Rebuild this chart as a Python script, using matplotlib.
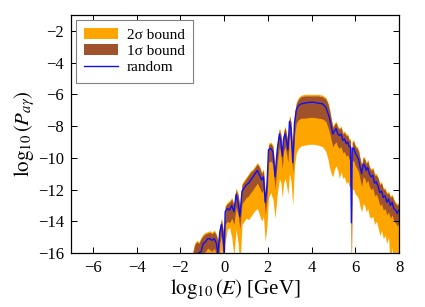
import numpy as np
import matplotlib
matplotlib.use("Agg")
import matplotlib.pyplot as plt

plt.rcParams['font.family'] = ['Liberation Serif', 'DejaVu Serif']
plt.rcParams['mathtext.fontset'] = 'stix'

# log10(E) grid
log_e = [-1.45, -1.35, -1.25, -1.15, -1.05, -0.95, -0.85, -0.75, -0.65, -0.55,
         -0.45, -0.35, -0.28, -0.2, -0.12, -0.05, 0.0, 0.05, 0.15, 0.25,
         0.35, 0.45, 0.55, 0.65, 0.72, 0.82, 0.92, 1.02, 1.12, 1.22,
         1.32, 1.42, 1.52, 1.62, 1.72, 1.80, 1.88, 1.96, 2.03, 2.13,
         2.23, 2.33, 2.43, 2.53, 2.60, 2.66, 2.72, 2.79, 2.86, 2.92,
         2.99, 3.06, 3.14, 3.22, 3.30, 3.40, 3.52, 3.7, 3.9, 4.1,
         4.3, 4.5, 4.65, 4.75, 4.82, 4.90, 4.97, 5.05, 5.12, 5.20,
         5.27, 5.35, 5.43, 5.50, 5.58, 5.65, 5.72, 5.78, 5.82, 5.86,
         5.93, 6.00, 6.08, 6.15, 6.22, 6.29, 6.36, 6.43, 6.50, 6.57,
         6.64, 6.72, 6.80, 6.88, 6.96, 7.04, 7.12, 7.20, 7.28, 7.36,
         7.44, 7.52, 7.60, 7.68, 7.76, 7.84, 7.92, 8.00]

# random realisation
p_random = [-16.5, -16.3, -16.2, -16.0, -15.9, -15.4, -15.3, -15.1, -15.1, -15.2,
            -15.1, -15.4, -16.1, -14.7, -14.2, -15.0, -16.0, -13.4, -13.2, -13.3,
            -13.0, -13.4, -12.3, -12.9, -13.7, -12.1, -11.9, -11.7, -11.6, -11.4,
            -11.2, -11.0, -10.8, -11.1, -11.4, -11.2, -12.8, -11.8, -9.5, -9.4,
            -9.6, -11.2, -9.5, -8.5, -9.0, -9.9, -8.8, -8.5, -9.0, -9.5,
            -7.7, -8.2, -10.3, -7.8, -7.0, -6.7, -6.6, -6.55, -6.5, -6.5,
            -6.55, -6.6, -6.8, -7.2, -7.5, -8.0, -8.5, -8.3, -8.15, -8.5,
            -8.6, -8.5, -8.9, -8.8, -9.1, -9.0, -9.3, -9.3, -14.1, -9.4,
            -9.4, -9.7, -9.9, -10.1, -10.6, -11.0, -10.4, -10.5, -10.8, -10.6,
            -11.0, -11.2, -11.1, -11.6, -11.5, -11.8, -12.2, -12.1, -12.5, -12.4,
            -12.8, -12.6, -13.0, -12.8, -13.2, -13.3, -13.5, -13.3]

# 1 sigma band
up_1s = [-16.2, -15.5, -15.3, -15.4, -15.1, -14.9, -14.8, -14.75, -14.7, -14.8,
         -14.65, -14.9, -15.3, -14.4, -13.9, -14.5, -15.0, -13.1, -12.9, -12.8,
         -12.6, -13.0, -12.0, -12.4, -13.2, -11.7, -11.5, -11.3, -11.1, -10.9,
         -10.8, -10.6, -10.4, -10.6, -11.0, -10.8, -12.3, -11.2, -9.2, -9.1,
         -9.3, -10.7, -9.1, -8.2, -8.6, -9.5, -8.4, -8.1, -8.6, -9.0,
         -7.4, -7.8, -9.6, -7.3, -6.6, -6.3, -6.15, -6.1, -6.1, -6.1,
         -6.1, -6.15, -6.3, -6.6, -7.0, -7.6, -8.1, -7.9, -7.8, -8.1,
         -8.2, -8.1, -8.5, -8.4, -8.6, -8.6, -8.9, -8.9, -13.0, -9.0,
         -9.0, -9.3, -9.4, -9.6, -10.1, -10.5, -10.0, -10.1, -10.4, -10.2,
         -10.6, -10.8, -10.7, -11.1, -11.1, -11.3, -11.7, -11.6, -12.0, -12.0,
         -12.3, -12.2, -12.5, -12.4, -12.7, -12.9, -13.0, -12.9]
lo_1s = [-17, -17, -16.8, -16.5, -16.5, -16.0, -15.9, -15.7, -15.8, -15.9,
         -15.7, -16.1, -17, -15.4, -14.9, -15.8, -17, -14.2, -14.0, -14.1,
         -13.8, -14.2, -13.1, -13.7, -14.5, -12.9, -12.7, -12.5, -12.4, -12.2,
         -12.0, -11.8, -11.6, -11.9, -12.2, -12.0, -13.6, -12.6, -10.3, -10.2,
         -10.4, -12.0, -10.3, -9.3, -9.8, -10.7, -9.6, -9.3, -9.8, -10.3,
         -8.5, -9.0, -11.0, -8.6, -7.8, -7.6, -7.5, -7.5, -7.45, -7.45,
         -7.5, -7.55, -7.7, -8.1, -8.4, -8.9, -9.3, -9.1, -9.0, -9.3,
         -9.4, -9.3, -9.7, -9.6, -9.9, -9.8, -10.1, -10.1, -17, -10.2,
         -10.2, -10.5, -10.7, -10.9, -11.4, -11.8, -11.2, -11.3, -11.6, -11.4,
         -11.8, -12.0, -11.9, -12.4, -12.3, -12.6, -13.0, -12.9, -13.3, -13.2,
         -13.6, -13.4, -13.8, -13.6, -14.0, -14.1, -14.3, -14.1]

# 2 sigma band
up_2s = [-16.0, -15.4, -15.2, -15.3, -15.0, -14.8, -14.7, -14.65, -14.6, -14.7,
         -14.55, -14.8, -15.2, -14.3, -13.8, -14.4, -14.9, -13.0, -12.8, -12.7,
         -12.5, -12.9, -11.9, -12.3, -13.1, -11.6, -11.4, -11.2, -11.0, -10.8,
         -10.7, -10.5, -10.3, -10.5, -10.9, -10.7, -12.2, -11.1, -9.1, -9.0,
         -9.2, -10.6, -9.0, -8.1, -8.5, -9.4, -8.3, -8.0, -8.5, -8.9,
         -7.3, -7.7, -9.5, -7.2, -6.5, -6.2, -6.05, -6.0, -6.0, -6.0,
         -6.0, -6.05, -6.2, -6.5, -6.9, -7.5, -8.0, -7.8, -7.7, -8.0,
         -8.1, -8.0, -8.4, -8.3, -8.5, -8.5, -8.8, -8.8, -12.9, -8.9,
         -8.9, -9.2, -9.3, -9.5, -10.0, -10.4, -9.9, -10.0, -10.3, -10.1,
         -10.5, -10.7, -10.6, -11.0, -11.0, -11.2, -11.6, -11.5, -11.9, -11.9,
         -12.2, -12.1, -12.4, -12.3, -12.6, -12.8, -12.9, -12.8]
lo_2s = [-17, -17, -17, -17, -17, -17, -16.8, -16.5, -16.5, -17,
         -16.5, -17, -17, -16.3, -15.8, -17, -17, -15.3, -14.5, -14.4,
         -15.0, -16.2, -14.5, -15.5, -17, -14.2, -14.0, -13.8, -13.9, -13.7,
         -13.5, -13.3, -13.2, -13.6, -14.0, -13.7, -15.3, -14.3, -12.5, -12.2,
         -12.6, -13.8, -12.3, -11.3, -11.6, -12.5, -11.6, -11.3, -11.8, -12.3,
         -11.0, -11.5, -13.0, -10.5, -9.7, -9.4, -9.25, -9.2, -9.15, -9.15,
         -9.2, -9.3, -9.6, -10.1, -10.6, -11.0, -11.2, -10.7, -10.5, -10.8,
         -11.3, -10.9, -11.3, -11.2, -11.6, -11.5, -11.8, -11.9, -17, -12.0,
         -12.0, -12.3, -12.4, -12.6, -13.1, -13.4, -12.9, -13.0, -13.4, -13.2,
         -13.7, -13.8, -13.7, -14.2, -14.0, -14.4, -14.9, -14.6, -15.1, -14.9,
         -15.4, -15.0, -17, -15.6, -17, -15.8, -17, -17]


def main():
    fig = plt.figure(figsize=(4.25, 3.07), dpi=100)
    ax = fig.add_axes([0.167, 0.176, 0.772, 0.775])

    ax.fill_between(log_e, lo_2s, up_2s, color='#FFA500', linewidth=0,
                    label='2σ bound')
    ax.fill_between(log_e, lo_1s, up_1s, color='#A0522D', linewidth=0,
                    label='1σ bound')
    ax.plot(log_e, p_random, color='#1010F0', linewidth=1.0, label='random')

    ax.set_xlim(-7, 8)
    ax.set_ylim(-16, -1)
    ax.set_xticks(np.arange(-6, 9, 2))
    ax.set_yticks(np.arange(-16, -1, 2))
    ax.tick_params(direction='in', top=True, right=True, length=4,
                   labelsize=12, width=0.7, pad=5)
    for s in ax.spines.values():
        s.set_linewidth(0.9)

    ax.set_xlabel(r'$\log_{10}(E)$ [GeV]', fontsize=15, labelpad=1)
    ax.set_ylabel(r'$\log_{10}(P_{a\gamma})$', fontsize=15, labelpad=1)

    leg = ax.legend(loc='upper left', fontsize=11, fancybox=False,
                    edgecolor='gray', framealpha=1, handlelength=2.2,
                    handleheight=0.75, borderaxespad=0.3, labelspacing=0.15,
                    borderpad=0.55, handletextpad=0.6)
    leg.get_frame().set_linewidth(0.8)

    fig.savefig('out.png', dpi=100)


if __name__ == "__main__":
    main()
